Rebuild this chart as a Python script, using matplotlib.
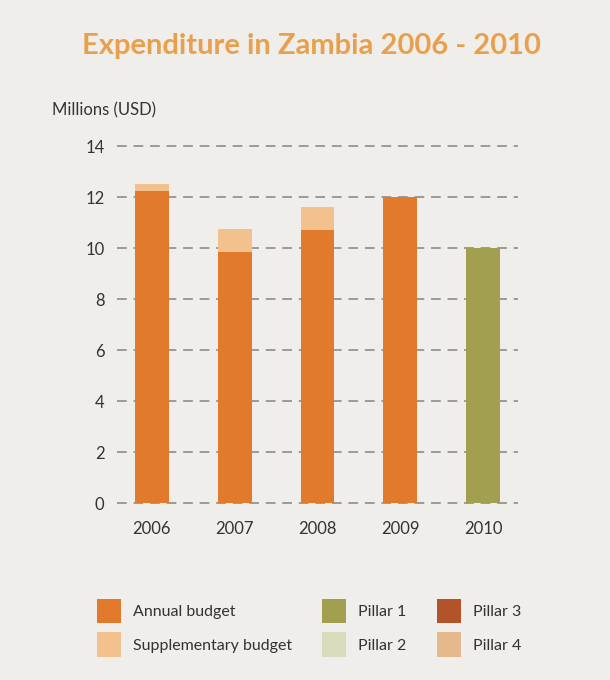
import numpy as np
import matplotlib
matplotlib.use("Agg")
import matplotlib.pyplot as plt
from matplotlib.patches import Patch

# data
years = ["2006", "2007", "2008", "2009", "2010"]
annual_budget = [12.25, 9.85, 10.7, 12.0, 0.0]
supplementary_budget = [0.25, 0.92, 0.92, 0.0, 0.0]
pillar_1 = [0.0, 0.0, 0.0, 0.0, 10.0]
y_ticks = [0, 2, 4, 6, 8, 10, 12, 14]

colors = {
    "Annual budget": "#e27a2c",
    "Supplementary budget": "#f2c18d",
    "Pillar 1": "#a29f51",
    "Pillar 2": "#d9dcbc",
    "Pillar 3": "#b3532a",
    "Pillar 4": "#e5b98c",
}

bg = "#efeeea"
plt.rcParams["font.family"] = ["Lato", "DejaVu Sans"]

fig = plt.figure(figsize=(6.1, 6.8), dpi=100, facecolor=bg)
ax = fig.add_axes([0.192, 0.260, 0.657, 0.525], facecolor=bg)

x = np.arange(len(years))
w = 0.41
annual = np.array(annual_budget)
supp = np.array(supplementary_budget)
p1 = np.array(pillar_1)

ax.bar(x, annual, w, color=colors["Annual budget"], zorder=3)
ax.bar(x, supp, w, bottom=annual, color=colors["Supplementary budget"], zorder=3)
ax.bar(x, p1, w, bottom=annual + supp, color=colors["Pillar 1"], zorder=3)

ax.set_xlim(-0.42, len(years) - 1 + 0.42)
ax.set_ylim(0, 14)
ax.set_yticks(y_ticks)
ax.set_xticks(x)
ax.set_xticklabels(years)
for yv in y_ticks:
    ax.axhline(yv, color="#9a9a9a", lw=1.4, ls=(0, (5, 3.5)), zorder=1, clip_on=False)

for s in ax.spines.values():
    s.set_visible(False)
ax.tick_params(length=0, labelsize=12, colors="#333333")
ax.tick_params(axis="y", pad=9)
ax.tick_params(axis="x", pad=13)

fig.text(0.085, 0.838, "Millions (USD)", fontsize=12, color="#333333", va="center")
fig.text(0.51, 0.933, "Expenditure in Zambia 2006 - 2010", ha="center", va="center",
         fontsize=21, fontweight="bold", color="#e9a04c")

handles = [Patch(facecolor=c, edgecolor="none", label=k) for k, c in colors.items()]
fig.legend(handles=handles, ncol=3, loc="lower left", bbox_to_anchor=(0.135, 0.013),
           frameon=False, fontsize=11.5, handlelength=1.5, handleheight=2.0,
           handletextpad=0.75, columnspacing=1.9, labelspacing=0.55, labelcolor="#333333")

fig.savefig("out.png", dpi=100, facecolor=bg)
